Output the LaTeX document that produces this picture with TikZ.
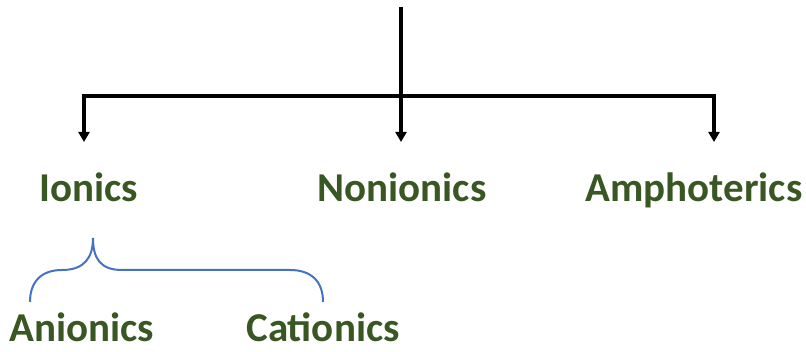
\documentclass[tikz,border=0pt]{standalone}
\usepackage{fontspec}
\setmainfont{Carlito}
\usetikzlibrary{arrows.meta,positioning}
\definecolor{ClassGreen}{HTML}{385723}
\definecolor{BraceBlue}{HTML}{4472C4}

\begin{document}
\begin{tikzpicture}[
    x=1pt, y=-1pt,
    class/.style={font=\fontsize{41}{45}\selectfont\bfseries, text=ClassGreen, inner sep=0pt, anchor=base},
    trunk/.style={line width=3.4pt, color=black},
    arrow/.style={-{Triangle[length=10pt,width=11pt]}, line width=3.4pt, color=black},
    brace/.style={line width=2pt, color=BraceBlue}
]
\useasboundingbox (0,0) rectangle (806,352);

% Classes of the first level
\node[class] (ionics) at (89,202) {Ionics};
\node[class] (nonionics) at (402,202) {Nonionics};
\node[class] (amphoterics) at (694,202) {Amphoterics};

% Classes of the ionics
\node[class] (anionics) at (82,342) {Anionics};
\node[class] (cationics) at (323,342) {Cationics};

% Branch points
\coordinate (top) at (401,7);
\coordinate (split) at (401,96);
\coordinate (left) at (84,96);
\coordinate (right) at (714,96);
\coordinate (ionicsend) at (84,142);
\coordinate (nonionicsend) at (401,142);
\coordinate (amphotericsend) at (714,142);

% Connections
\draw[trunk] (top) -- (split);
\draw[trunk, line cap=rect] (left) -- (right);
\draw[arrow] (left) -- (ionicsend);
\draw[arrow] (split) -- (nonionicsend);
\draw[arrow] (right) -- (amphotericsend);

% Brace under the ionics
\draw[brace] (30,302) .. controls (30,281) and (42,270) .. (62,270)
    .. controls (84,270) and (93,258) .. (93,238)
    .. controls (93,258) and (100,270) .. (122,270) -- (290,270)
    .. controls (311,270) and (323,281) .. (323,302);

\end{tikzpicture}
\end{document}
